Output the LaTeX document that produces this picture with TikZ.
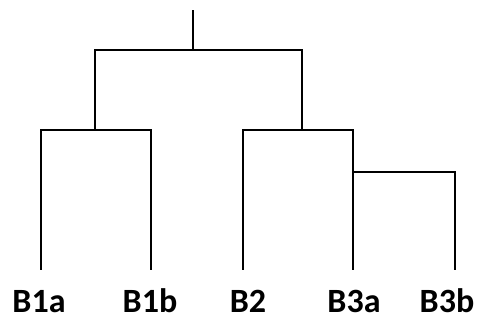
\documentclass[tikz,border=0pt]{standalone}
\usepackage{fontspec}
\setmainfont{Carlito}
\begin{document}
\begin{tikzpicture}[x=1pt,y=-1pt,
  link/.style={line width=2pt,line cap=rect},
  leaf/.style={font=\fontsize{34}{40}\selectfont\bfseries,anchor=base,inner sep=0pt,text depth=0pt}]
\useasboundingbox (0,0) rectangle (484,321);
\coordinate (root) at (193,11);
\coordinate (n0) at (193,50);
\coordinate (n1) at (95,50);
\coordinate (n2) at (302,50);
\coordinate (n1b) at (95,130);
\coordinate (n2b) at (302,130);
\coordinate (n3) at (353,130);
\coordinate (n3b) at (353,172);
\coordinate (a1) at (41,130);
\coordinate (a2) at (151,130);
\coordinate (a3) at (243,130);
\coordinate (a5) at (455,172);
\coordinate (e1) at (41,269);
\coordinate (e2) at (151,269);
\coordinate (e3) at (243,269);
\coordinate (e4) at (353,269);
\coordinate (e5) at (455,269);
\draw[link] (root) -- (n0);
\draw[link] (n1b) -- (n1) -- (n2) -- (n2b);
\draw[link] (e1) -- (a1) -- (a2) -- (e2);
\draw[link] (e3) -- (a3) -- (n3) -- (e4);
\draw[link] (n3b) -- (a5) -- (e5);
\node[leaf] (l1) at (39,312) {B1a};
\node[leaf] (l2) at (150,312) {B1b};
\node[leaf] (l3) at (248,312) {B2};
\node[leaf] (l4) at (354,312) {B3a};
\node[leaf] (l5) at (447,312) {B3b};
\end{tikzpicture}
\end{document}
